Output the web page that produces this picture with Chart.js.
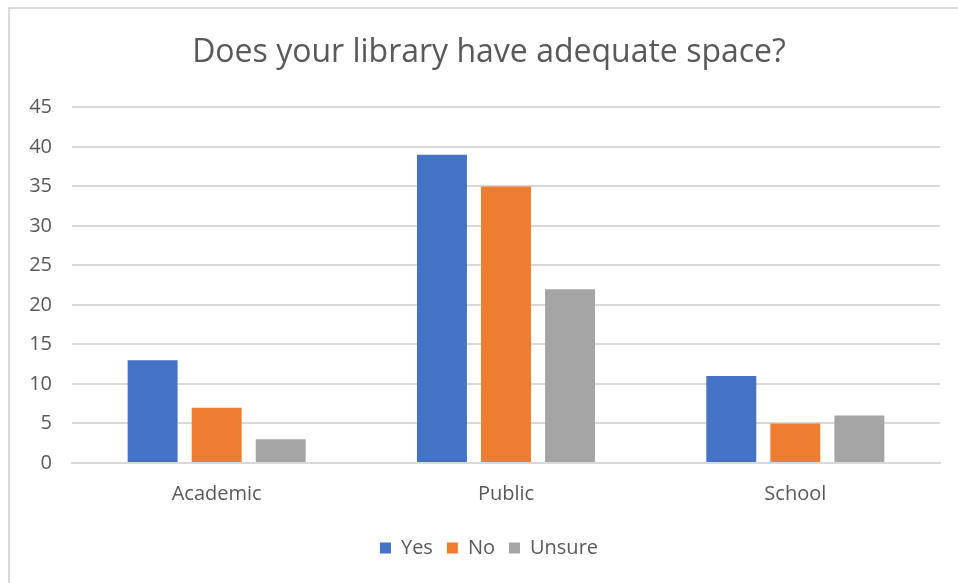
<!DOCTYPE html>
<html>
<head>
<meta charset="utf-8">
<script src="https://cdn.jsdelivr.net/npm/chart.js@4"></script>
<style>
  html, body { margin: 0; padding: 0; background: #fff; overflow: hidden; }
  #frame { position: absolute; left: 8px; top: 7px; width: 960px; height: 590px; border: 2px solid #d9d9d9; box-sizing: border-box; }
  #wrap { position: absolute; left: 0; top: 0; width: 958px; height: 583px; }
</style>
</head>
<body>
<div id="frame"></div>
<div id="wrap"><canvas id="chart"></canvas></div>
<script>
const categories = ["Academic", "Public", "School"];
const yesValues = [13, 39, 11];
const noValues = [7, 35, 5];
const unsureValues = [3, 22, 6];
const yTicks = [0, 5, 10, 15, 20, 25, 30, 35, 40, 45];

const fontFamily = "'Open Sans', 'Noto Sans', sans-serif";

// y labels sit left of the axis box, so draw them mirrored (unclipped) and pull them back out
const measure = document.createElement("canvas").getContext("2d");
measure.font = `20px ${fontFamily}`;
const widestTick = Math.max(...yTicks.map((v) => measure.measureText(String(v)).width));

new Chart(document.getElementById("chart"), {
  type: "bar",
  data: {
    labels: categories,
    datasets: [
      { label: "Yes", data: yesValues, backgroundColor: "#4472c4" },
      { label: "No", data: noValues, backgroundColor: "#ed7d31" },
      { label: "Unsure", data: unsureValues, backgroundColor: "#a5a5a5" },
    ],
  },
  options: {
    responsive: true,
    maintainAspectRatio: false,
    animation: false,
    layout: { padding: { left: 38, right: 18, top: 34, bottom: 15 } },
    datasets: { bar: { categoryPercentage: 0.664, barPercentage: 0.78 } },
    scales: {
      x: {
        grid: { display: false, drawTicks: false },
        border: { color: "#d9d9d9", width: 2 },
        ticks: { color: "#595959", font: { family: fontFamily, size: 20 }, padding: 19 },
        afterFit: (axis) => { axis.height -= 1; },
      },
      y: {
        min: 0,
        max: 45,
        afterBuildTicks: (axis) => { axis.ticks = yTicks.map((v) => ({ value: v })); },
        afterFit: (axis) => { axis.width = 34; },
        grid: { color: "#d9d9d9", lineWidth: 2, drawTicks: false },
        border: { display: false },
        ticks: {
          color: "#595959",
          font: { family: fontFamily, size: 20 },
          mirror: true,
          crossAlign: "far",
          padding: -20 - widestTick,
        },
      },
    },
    plugins: {
      title: {
        display: true,
        text: "Does your library have adequate space?",
        color: "#595959",
        font: { family: fontFamily, size: 32, weight: "normal" },
        padding: { top: 0, bottom: 35 },
      },
      legend: {
        position: "bottom",
        labels: { color: "#595959", font: { family: fontFamily, size: 20 }, boxWidth: 11, boxHeight: 11, padding: 14 },
      },
      tooltip: { enabled: false },
    },
  },
});
</script>
</body>
</html>
